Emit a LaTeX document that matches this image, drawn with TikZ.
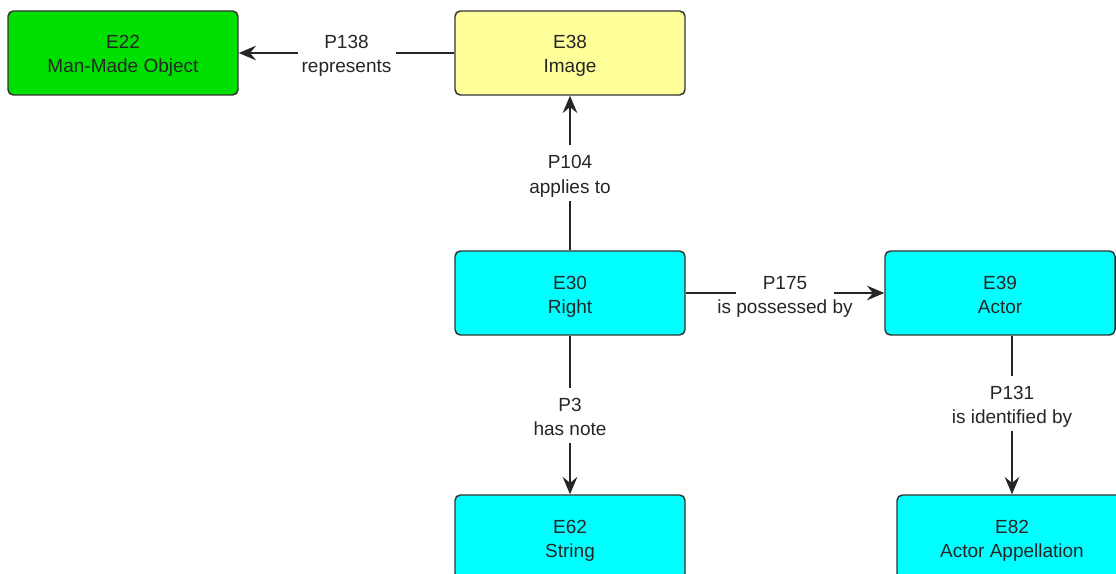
\documentclass[tikz,border=0pt]{standalone}
\usepackage{fontspec}
\setmainfont{Liberation Sans}
\usetikzlibrary{positioning}
\usetikzlibrary{arrows.meta}

\definecolor{objgreen}{RGB}{0,224,0}
\definecolor{imgyellow}{RGB}{255,255,153}
\definecolor{entcyan}{RGB}{0,255,255}
\definecolor{edgegray}{RGB}{51,51,51}

\begin{document}
\begin{tikzpicture}[x=0.75pt, y=-0.75pt,
	entity/.style={draw=edgegray, line width=1.1pt, rounded corners=4pt, minimum width=172.5pt, minimum height=63pt, align=center, font=\fontsize{14.25}{18}\selectfont, text=black!85, text height=34pt, text depth=4pt},
	prop/.style={fill=white, inner sep=0pt, minimum width=73.5pt, minimum height=41.25pt, align=center, font=\fontsize{14.25}{18}\selectfont, text=black!85, text height=34pt, text depth=4pt},
	link/.style={draw=black!85, line width=1pt, -{Stealth[length=13pt, width=11pt, inset=4.5pt]}}
	]
		\useasboundingbox (0,0) rectangle (1116,574);
		\clip (0,0) rectangle (1116,574);
		
		% classes
		\node[entity, fill=objgreen] (e22) at (123,53) {E22\\Man-Made Object};
		\node[entity, fill=imgyellow] (e38) at (570,53) {E38\\Image};
		\node[entity, fill=entcyan] (e30) at (570,293) {E30\\Right};
		\node[entity, fill=entcyan] (e39) at (1000,293) {E39\\Actor};
		\node[entity, fill=entcyan] (e62) at (570,537) {E62\\String};
		\node[entity, fill=entcyan] (e82) at (1012,537) {E82\\Actor Appellation};
		
		% properties
		\draw[link] (e38) -- node[prop] (p138) {P138\\represents} (e22);
		\draw[link] (e30) -- node[prop] (p104) {P104\\applies to} (e38);
		\draw[link] (e30) -- node[prop, inner xsep=-14.25pt] (p175) {P175\\is possessed by} (e39);
		\draw[link] (e30) -- node[prop] (p3) {P3\\has note} (e62);
		\draw[link] (e82.north |- e39.south) -- node[prop, pos=0.43] (p131) {P131\\is identified by} (e82.north);
\end{tikzpicture}
\end{document}
